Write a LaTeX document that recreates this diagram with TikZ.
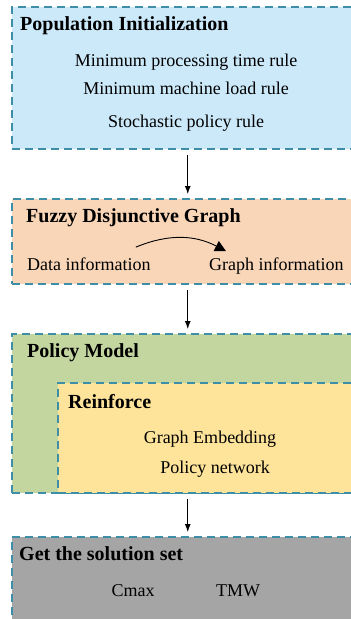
\documentclass[tikz,border=0pt]{standalone}
\usepackage{fontspec}
\setmainfont{Liberation Serif}
\usepackage{xcolor}
\usepackage{tikz}
\usetikzlibrary{arrows.meta}
\usetikzlibrary{positioning}

\definecolor{initblue}{HTML}{CCE9FA}
\definecolor{graphpeach}{HTML}{F9D6B8}
\definecolor{modelgreen}{HTML}{C4D6A0}
\definecolor{rlyellow}{HTML}{FEE39B}
\definecolor{solgray}{HTML}{A5A5A5}
\definecolor{edgeteal}{HTML}{3E8EA8}

\begin{document}
\begin{tikzpicture}[x=1pt,y=-1pt,
  box/.style={draw=edgeteal,line width=1.5pt,dash pattern=on 8pt off 5pt,
    anchor=north west,inner sep=0pt,minimum width=352pt},
  title/.style={font=\fontsize{20}{22}\selectfont\bfseries,anchor=base west,inner sep=0pt},
  item/.style={font=\fontsize{18}{20}\selectfont,anchor=base,inner sep=0pt},
  flow/.style={-{Latex[length=8pt,width=6pt]},line width=1pt,shorten <=5pt,shorten >=4pt}]
\useasboundingbox (0,0) rectangle (351,619);
\clip (0,0) rectangle (351,619);
% stages
\node[box,fill=initblue,minimum height=142pt] (init) at (11,6) {};
\node[box,fill=graphpeach,minimum height=85pt] (fdg) at (11,198) {};
\node[box,fill=modelgreen,minimum height=159pt] (model) at (11,333) {};
\node[box,fill=rlyellow,minimum width=306pt,minimum height=110pt] (rl) at (57,382) {};
\node[box,fill=solgray,minimum height=110pt] (sol) at (11,536) {};
% texts
\node[title] (initT) at (20,30) {Population Initialization};
\node[item] (rule1) at (186,66) {Minimum processing time rule};
\node[item] (rule2) at (186,94) {Minimum machine load rule};
\node[item] (rule3) at (186,127) {Stochastic policy rule};
\node[title] (fdgT) at (26,222) {Fuzzy Disjunctive Graph};
\node[item,anchor=base west] (data) at (27,270) {Data information};
\node[item,anchor=base west] (graph) at (209,270) {Graph information};
\node[title] (modelT) at (27,357) {Policy Model};
\node[title] (rlT) at (68,408) {Reinforce};
\node[item] (embed) at (210,443) {Graph Embedding};
\node[item] (policy) at (215,473) {Policy network};
\node[title] (solT) at (19,560) {Get the solution set};
\node[item] (cmax) at (133,596) {Cmax};
\node[item] (tmw) at (238,596) {TMW};
% arrows
\draw[flow] (init) -- (fdg);
\draw[flow] (fdg) -- (model);
\draw[flow] (model) -- (sol);
\draw[-{Triangle[length=11pt,width=11pt]},line width=0.9pt]
  ([xshift=-15pt,yshift=10pt]data.north east) to[bend left=25] ([xshift=17pt,yshift=6pt]graph.north west);
\end{tikzpicture}
\end{document}
